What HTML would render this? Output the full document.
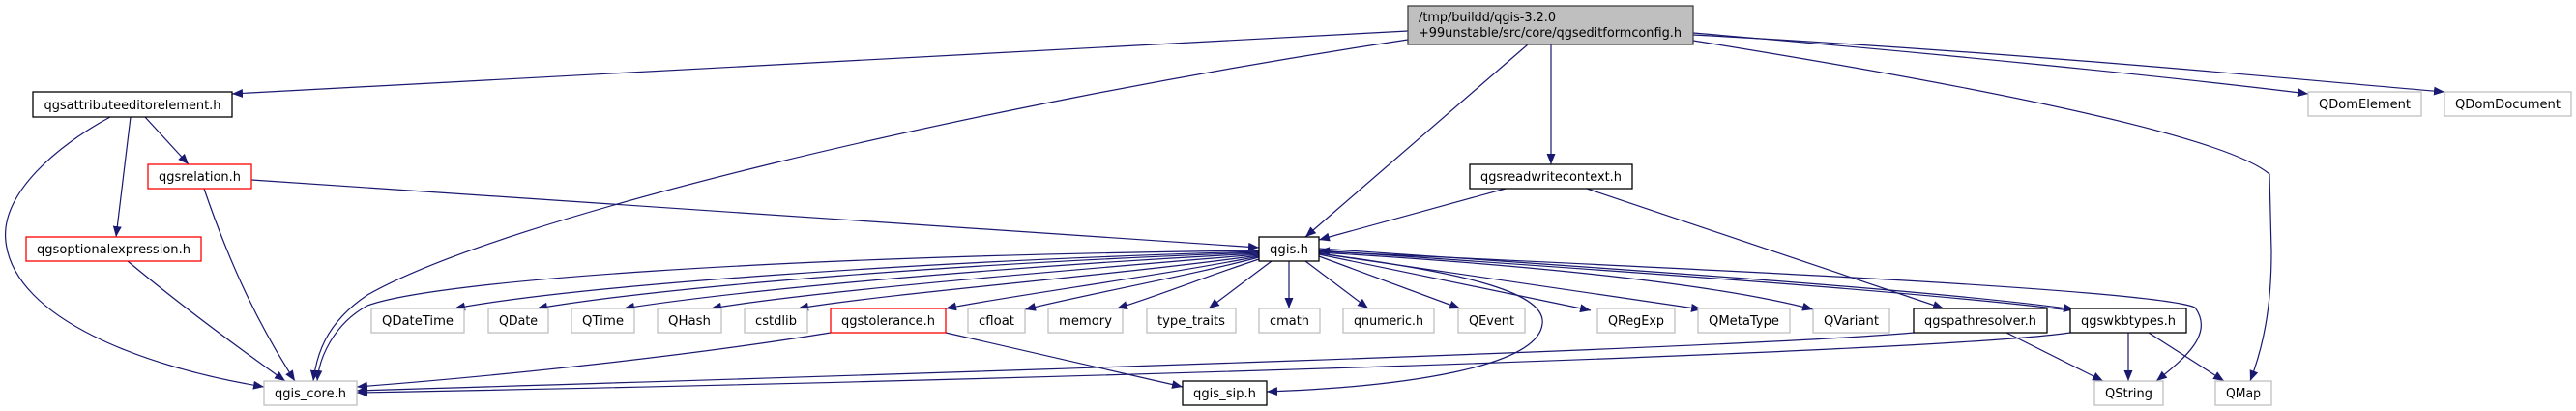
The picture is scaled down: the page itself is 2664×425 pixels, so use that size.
<!DOCTYPE html>
<html><head><meta charset="utf-8"><style>
html,body{margin:0;padding:0;background:#fff;}
svg{display:block;}
text{font-family:"DejaVu Sans","Liberation Sans",sans-serif;font-size:13px;fill:#000;}
</style></head><body>
<svg width="2664" height="425" viewBox="0 0 2664 425" xmlns="http://www.w3.org/2000/svg">
<defs>
<marker id="a" markerUnits="userSpaceOnUse" markerWidth="12" markerHeight="10" refX="11" refY="4.5" orient="auto">
<path d="M0,0 L11,4.5 L0,9 Z" fill="#191970"/>
</marker>
</defs>
<g fill="none" stroke="#191970" stroke-width="1.2" marker-end="url(#a)">
<!-- root edges -->
<path d="M1456,32 C1000,58 600,80 240,97"/>
<path d="M1456,41 C1000,110 520,225 380,305 C335,335 327,370 324,394"/>
<path d="M1580,46 L1350,245"/>
<path d="M1604,46 L1604,170"/>
<path d="M1751,34 C2000,55 2250,80 2387,97"/>
<path d="M1751,36 C2100,55 2350,80 2528,95"/>
<path d="M1751,42 C2050,90 2300,140 2347,180 L2349,260 C2349,320 2340,360 2327,394"/>
<!-- attributeeditorelement -->
<path d="M114,121 C60,150 0,200 6,250 C15,330 150,380 273,400"/>
<path d="M135,121 L120,245"/>
<path d="M150,121 L195,170"/>
<!-- relation -->
<path d="M260,186 L1302,256"/>
<path d="M211,195 C240,280 270,340 305,394"/>
<!-- optional -->
<path d="M132,270 C180,310 240,355 295,394"/>
<!-- readwritecontext -->
<path d="M1557,195 L1364,248"/>
<path d="M1641,195 L2010,319"/>
<!-- qgis.h -->
<path d="M1302,259 C800,265 450,290 380,316 C345,335 330,370 328,394"/>
<path d="M1302,260 C950,270 600,295 470,319"/>
<path d="M1302,261 C1000,272 700,295 555,319"/>
<path d="M1302,262 C1050,275 780,298 645,319"/>
<path d="M1302,263 C1100,280 850,300 735,319"/>
<path d="M1302,264 C1150,285 930,302 825,319"/>
<path d="M1302,265 C1200,285 1050,305 978,319"/>
<path d="M1302,266 C1230,285 1120,305 1060,320"/>
<path d="M1302,268 C1250,285 1200,305 1155,319"/>
<path d="M1315,270 L1250,319"/>
<path d="M1333,270 L1333,319"/>
<path d="M1350,270 L1415,319"/>
<path d="M1364,265 L1510,319"/>
<path d="M1364,263 L1645,321"/>
<path d="M1364,262 L1760,320"/>
<path d="M1364,261 C1600,275 1780,295 1875,320"/>
<path d="M1364,257 C1700,280 2000,300 2145,320"/>
<path d="M2141,321 C2000,303 1700,282 1364,259"/>
<path d="M1364,260 C1800,280 2230,300 2270,318 C2290,345 2260,370 2230,394"/>
<path d="M1364,262 C1500,280 1600,300 1595,335 C1590,380 1450,400 1310,405"/>
<!-- tolerance -->
<path d="M859,344 C700,370 500,390 369,400"/>
<path d="M978,344 L1223,400"/>
<!-- pathresolver -->
<path d="M1979,344 C1800,360 1000,385 369,404"/>
<path d="M2075,344 L2175,394"/>
<!-- wkbtypes -->
<path d="M2141,344 C2000,365 1000,395 369,406"/>
<path d="M2201,344 L2201,394"/>
<path d="M2222,344 L2300,394"/>
</g>
<!-- nodes -->
<g stroke-width="1.3" fill="#fff">
<rect x="1456" y="6" width="295" height="40" fill="#bfbfbf" stroke="#404040"/>
<rect x="34" y="95" width="206" height="26" stroke="#000"/>
<rect x="153" y="170" width="107" height="25" stroke="#ff0000"/>
<rect x="27" y="245" width="181" height="25" stroke="#ff0000"/>
<rect x="273" y="394" width="96" height="25" stroke="#bfbfbf"/>
<rect x="384" y="319" width="96" height="25" stroke="#bfbfbf"/>
<rect x="505" y="319" width="62" height="25" stroke="#bfbfbf"/>
<rect x="591" y="319" width="65" height="25" stroke="#bfbfbf"/>
<rect x="680" y="319" width="66" height="25" stroke="#bfbfbf"/>
<rect x="770" y="319" width="65" height="25" stroke="#bfbfbf"/>
<rect x="859" y="319" width="119" height="25" stroke="#ff0000"/>
<rect x="1001" y="319" width="59" height="25" stroke="#bfbfbf"/>
<rect x="1084" y="319" width="77" height="25" stroke="#bfbfbf"/>
<rect x="1186" y="319" width="92" height="25" stroke="#bfbfbf"/>
<rect x="1302" y="319" width="63" height="25" stroke="#bfbfbf"/>
<rect x="1389" y="319" width="94" height="25" stroke="#bfbfbf"/>
<rect x="1508" y="319" width="69" height="25" stroke="#bfbfbf"/>
<rect x="1652" y="319" width="80" height="25" stroke="#bfbfbf"/>
<rect x="1756" y="319" width="95" height="25" stroke="#bfbfbf"/>
<rect x="1875" y="319" width="79" height="25" stroke="#bfbfbf"/>
<rect x="1979" y="319" width="138" height="25" stroke="#000"/>
<rect x="2141" y="319" width="120" height="25" stroke="#000"/>
<rect x="1302" y="245" width="62" height="25" stroke="#000"/>
<rect x="1223" y="394" width="87" height="25" stroke="#000"/>
<rect x="1520" y="170" width="168" height="25" stroke="#000"/>
<rect x="2166" y="394" width="71" height="25" stroke="#bfbfbf"/>
<rect x="2291" y="394" width="58" height="25" stroke="#bfbfbf"/>
<rect x="2387" y="95" width="117" height="25" stroke="#bfbfbf"/>
<rect x="2528" y="95" width="131" height="25" stroke="#bfbfbf"/>
</g>
<g text-anchor="middle" lengthAdjust="spacingAndGlyphs">
<text x="1467" y="22" text-anchor="start" textLength="142" lengthAdjust="spacingAndGlyphs">/tmp/buildd/qgis-3.2.0</text>
<text x="1467" y="38" text-anchor="start" textLength="272" lengthAdjust="spacingAndGlyphs">+99unstable/src/core/qgseditformconfig.h</text>
<text x="137" y="113" textLength="183" lengthAdjust="spacingAndGlyphs">qgsattributeeditorelement.h</text>
<text x="206.5" y="187" textLength="85" lengthAdjust="spacingAndGlyphs">qgsrelation.h</text>
<text x="117.5" y="262" textLength="159" lengthAdjust="spacingAndGlyphs">qgsoptionalexpression.h</text>
<text x="321" y="411" textLength="74" lengthAdjust="spacingAndGlyphs">qgis_core.h</text>
<text x="432" y="336" textLength="74" lengthAdjust="spacingAndGlyphs">QDateTime</text>
<text x="536" y="336" textLength="40" lengthAdjust="spacingAndGlyphs">QDate</text>
<text x="623.5" y="336" textLength="43" lengthAdjust="spacingAndGlyphs">QTime</text>
<text x="713" y="336" textLength="44" lengthAdjust="spacingAndGlyphs">QHash</text>
<text x="802.5" y="336" textLength="43" lengthAdjust="spacingAndGlyphs">cstdlib</text>
<text x="918.5" y="336" textLength="97" lengthAdjust="spacingAndGlyphs">qgstolerance.h</text>
<text x="1030.5" y="336" textLength="37" lengthAdjust="spacingAndGlyphs">cfloat</text>
<text x="1122.5" y="336" textLength="55" lengthAdjust="spacingAndGlyphs">memory</text>
<text x="1232" y="336" textLength="70" lengthAdjust="spacingAndGlyphs">type_traits</text>
<text x="1333.5" y="336" textLength="41" lengthAdjust="spacingAndGlyphs">cmath</text>
<text x="1436" y="336" textLength="72" lengthAdjust="spacingAndGlyphs">qnumeric.h</text>
<text x="1542.5" y="336" textLength="47" lengthAdjust="spacingAndGlyphs">QEvent</text>
<text x="1692" y="336" textLength="58" lengthAdjust="spacingAndGlyphs">QRegExp</text>
<text x="1803.5" y="336" textLength="73" lengthAdjust="spacingAndGlyphs">QMetaType</text>
<text x="1914.5" y="336" textLength="57" lengthAdjust="spacingAndGlyphs">QVariant</text>
<text x="2048" y="336" textLength="116" lengthAdjust="spacingAndGlyphs">qgspathresolver.h</text>
<text x="2201" y="336" textLength="98" lengthAdjust="spacingAndGlyphs">qgswkbtypes.h</text>
<text x="1333" y="262" textLength="40" lengthAdjust="spacingAndGlyphs">qgis.h</text>
<text x="1266.5" y="411" textLength="65" lengthAdjust="spacingAndGlyphs">qgis_sip.h</text>
<text x="1604" y="187" textLength="146" lengthAdjust="spacingAndGlyphs">qgsreadwritecontext.h</text>
<text x="2201.5" y="411" textLength="49" lengthAdjust="spacingAndGlyphs">QString</text>
<text x="2320" y="411" textLength="36" lengthAdjust="spacingAndGlyphs">QMap</text>
<text x="2445.5" y="112" textLength="95" lengthAdjust="spacingAndGlyphs">QDomElement</text>
<text x="2593.5" y="112" textLength="109" lengthAdjust="spacingAndGlyphs">QDomDocument</text>
</g>
</svg>
</body></html>
